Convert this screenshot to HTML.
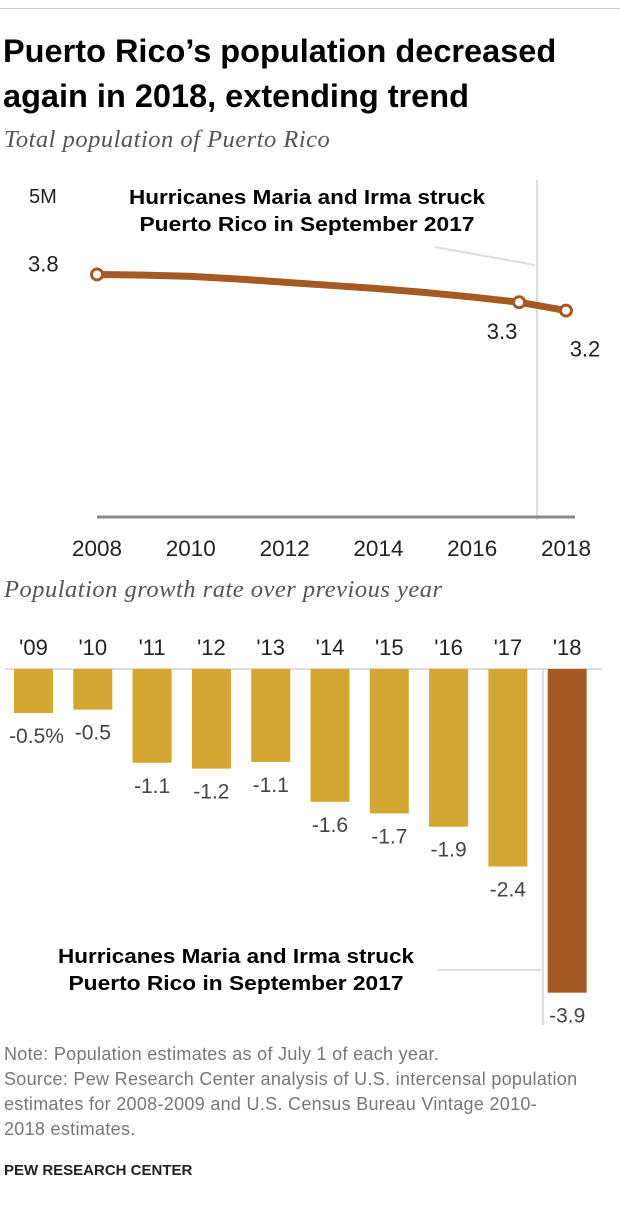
<!DOCTYPE html>
<html><head><meta charset="utf-8"><style>
body{margin:0;width:620px;height:1230px;background:#fff;font-family:"Liberation Sans",sans-serif;position:relative;overflow:hidden}
.t{position:absolute;left:3px;top:29px;font-size:32.5px;font-weight:bold;line-height:45px;color:#000}
.s{position:absolute;left:4px;font-family:"Liberation Serif",serif;font-style:italic;font-size:24.5px;letter-spacing:0.5px;color:#555}
.n{position:absolute;left:4px;top:1042px;font-size:18px;letter-spacing:0.3px;line-height:25px;color:#777;white-space:nowrap}
.p{position:absolute;left:4px;top:1162px;font-size:15px;font-weight:bold;color:#222}
</style></head><body>
<div style="position:absolute;left:0;top:8px;width:620px;border-top:1px solid #ccc"></div>
<div class="t">Puerto Rico’s population decreased<br>again in 2018, extending trend</div>
<div class="s" style="top:126px">Total population of Puerto Rico</div>
<div class="s" style="top:576px">Population growth rate over previous year</div>
<svg id="c" width="620" height="1040" style="position:absolute;left:0;top:0"></svg>
<div class="n">Note: Population estimates as of July 1 of each year.<br>Source: Pew Research Center analysis of U.S. intercensal population<br>estimates for 2008-2009 and U.S. Census Bureau Vintage 2010-<br>2018 estimates.</div>
<div class="p">PEW RESEARCH CENTER</div>
<script>
const years=[2008,2009,2010,2011,2012,2013,2014,2015,2016,2017,2018];
const pop=[3.76,3.75,3.73,3.69,3.64,3.59,3.54,3.48,3.41,3.33,3.20];
const xTicks=[2008,2010,2012,2014,2016,2018];
const barCats=["'09","'10","'11","'12","'13","'14","'15","'16","'17","'18"];
const growth=[-0.53,-0.49,-1.13,-1.2,-1.12,-1.6,-1.74,-1.9,-2.38,-3.9];
const growthLabels=["-0.5%","-0.5","-1.1","-1.2","-1.1","-1.6","-1.7","-1.9","-2.4","-3.9"];
const NS="http://www.w3.org/2000/svg",svg=document.getElementById('c');
function mk(t,a,p){const e=document.createElementNS(NS,t);for(const k in a)e.setAttribute(k,a[k]);(p||svg).appendChild(e);return e;}
const xs=y=>97+(y-2008)*46.9, ys=v=>517-v*64.5;
// line chart
let e=mk('line',{x1:537,y1:180,x2:537,y2:520,stroke:'#ddd','stroke-width':2});

e=mk('line',{x1:435,y1:247,x2:535,y2:265,stroke:'#ddd','stroke-width':2});

e=mk('line',{x1:97,y1:517,x2:575,y2:517,stroke:'#888','stroke-width':3});

e=mk('text',{x:29,y:203,'font-size':20,fill:'#222'});e.textContent='5M';

const ann=['Hurricanes Maria and Irma struck','Puerto Rico in September 2017'];
const annW=[356,335];
ann.forEach((t,i)=>{const a=mk('text',{x:307-annW[i]/2,y:204+i*27,'font-size':20,'font-weight':'bold',fill:'#000',textLength:annW[i],lengthAdjust:'spacingAndGlyphs'});a.textContent=t;
});
e=mk('polyline',{points:years.map((y,i)=>xs(y)+','+ys(pop[i])).join(' '),fill:'none',stroke:'#a55a26','stroke-width':7,'stroke-linejoin':'round'});

[[0,'3.8',0,0],[9,'3.3',-17,37],[10,'3.2',19,46]].forEach(([i,t,dx,dy])=>{
 const c=mk('circle',{cx:xs(years[i]),cy:ys(pop[i]),r:5.5,fill:'#fff',stroke:'#a55a26','stroke-width':3});
 
 const l=mk('text',{x:i==0?28:xs(years[i])+dx,y:i==0?ys(pop[i])-3:ys(pop[i])+dy,'font-size':22,fill:'#222','text-anchor':i==0?'start':'middle'});
 l.textContent=t;});
xTicks.forEach(y=>{const t=mk('text',{x:xs(y),y:556,'font-size':22.5,'text-anchor':'middle',fill:'#222'});t.textContent=y;
});
// bar chart
const B0=669,K=83,BW=39,bx=i=>14+i*59.3;
e=mk('line',{x1:5,y1:669,x2:602,y2:669,stroke:'#ddd','stroke-width':2});

e=mk('line',{x1:543,y1:669,x2:543,y2:1025,stroke:'#ddd','stroke-width':2});

e=mk('line',{x1:438,y1:970,x2:543,y2:970,stroke:'#ddd','stroke-width':2});

ann.forEach((t,i)=>{const a=mk('text',{x:236-annW[i]/2,y:963+i*27,'font-size':20,'font-weight':'bold',fill:'#000',textLength:annW[i],lengthAdjust:'spacingAndGlyphs'});a.textContent=t;
});
barCats.forEach((c,i)=>{
 const h=-growth[i]*K,x=bx(i);
 const r=mk('rect',{x:x,y:B0,width:BW,height:h,fill:i==9?'#a55a26':'#d3a732'});
 
 const t=mk('text',{x:x+BW/2,y:655,'font-size':22,'text-anchor':'middle',fill:'#222'});t.textContent=c;
 
 const v=mk('text',{x:x+BW/2+(i==0?3:0),y:B0+h+30,'font-size':21,'text-anchor':'middle',fill:'#444'});v.textContent=growthLabels[i];
 
});
</script>
</body></html>
